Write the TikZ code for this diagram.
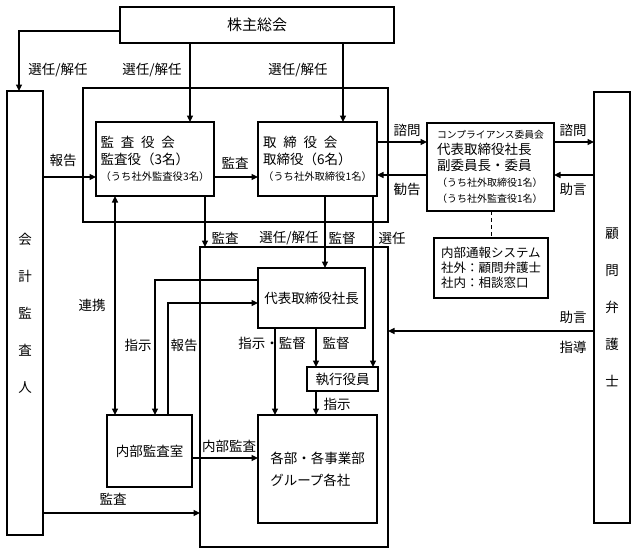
\documentclass[tikz,border=0pt]{standalone}
\usepackage{fontspec}
\setmainfont{Noto Sans CJK JP}
\usetikzlibrary{arrows.meta,calc}
\begin{document}
\begin{tikzpicture}[x=1pt,y=-1pt,
  line width=1.1pt,
  box/.style={draw,rectangle,inner sep=0pt,outer sep=0pt,align=left,font=\fontsize{13.5}{16.5}\selectfont},
  lbl/.style={inner sep=0pt,font=\fontsize{13.5}{15}\selectfont},
  arr/.style={-{Triangle[length=6.5pt,width=6pt]}},
  darr/.style={{Triangle[length=6.5pt,width=6pt]}-{Triangle[length=6.5pt,width=6pt]}}]
\useasboundingbox (0,0) rectangle (637,554);
% outer frames
\node[box,minimum width=305,minimum height=134] (outerA) at (235.5,155) {};
\node[box,minimum width=188,minimum height=300] (outerB) at (294,397) {};
% boxes
\node[box,align=center,minimum width=274,minimum height=36,font=\fontsize{15}{16}\selectfont] (kabu) at (257,25) {株主総会};
\node[box,align=center,minimum width=36,minimum height=444,font=\fontsize{13.5}{37}\selectfont] (kaikei) at (25,313) {会\\計\\監\\査\\人};
\node[box,align=center,minimum width=36,minimum height=431,font=\fontsize{13.5}{37}\selectfont] (komon) at (612,307.5) {顧\\問\\弁\\護\\士};
\node[box,minimum width=118,minimum height=74] (kansa) at (155,159)
  {監\hspace{0.5em}査\hspace{0.5em}役\hspace{0.5em}会\\監査役（3名）\\{\fontsize{10.3}{16.5}\selectfont （うち社外監査役3名）}};
\node[box,minimum width=119,minimum height=74] (tori) at (317.5,159)
  {取\hspace{0.5em}締\hspace{0.5em}役\hspace{0.5em}会\\取締役（6名）\\{\fontsize{10.3}{16.5}\selectfont （うち社外取締役1名）}};
\node[box,minimum width=127,minimum height=88,font=\fontsize{13.5}{16}\selectfont] (comp) at (490.5,167)
  {{\fontsize{9.8}{16}\selectfont コンプライアンス委員会}\\代表取締役社長\\副委員長・委員\\{\fontsize{10}{16}\selectfont （うち社外取締役1名）}\\{\fontsize{10}{16}\selectfont （うち社外監査役1名）}};
\node[box,minimum width=114,minimum height=60,font=\fontsize{12.5}{15}\selectfont] (tsuho) at (491,268)
  {内部通報システム\\社外：顧問弁護士\\社内：相談窓口};
\node[box,align=center,minimum width=107,minimum height=60] (dai) at (311.5,298) {代表取締役社長};
\node[box,align=center,minimum width=71,minimum height=24] (shikko) at (342.5,379) {執行役員};
\node[box,minimum width=119,minimum height=108,font=\fontsize{13.5}{22}\selectfont] (buka) at (317.5,469) {各部・各事業部\\グループ各社};
\node[box,align=center,minimum width=85,minimum height=72] (naibu) at (149.5,451) {内部監査室};
% helper coordinates
\coordinate (c19) at (19,0);
\coordinate (c115) at (115,0);
\coordinate (c155) at (155,0);
\coordinate (c168) at (168,0);
\coordinate (c190) at (190,0);
\coordinate (c205) at (205,0);
\coordinate (c275) at (275,0);
\coordinate (c316) at (316,0);
\coordinate (c325) at (325,0);
\coordinate (c343) at (343,0);
\coordinate (c373) at (373,0);
\coordinate (c491) at (491,0);
\coordinate (r31) at (0,31);
\coordinate (r142) at (0,142);
\coordinate (r175) at (0,175);
\coordinate (r177) at (0,177);
\coordinate (r280) at (0,280);
\coordinate (r303) at (0,303);
\coordinate (r331) at (0,331);
\coordinate (r458) at (0,458);
\coordinate (r513) at (0,513);
% connectors
\draw[arr] (kabu.west |- r31) -- (c19 |- r31) -- (c19 |- kaikei.north);
\draw[arr] (c190 |- kabu.south) -- (c190 |- kansa.north);
\draw[arr] (c343 |- kabu.south) -- (c343 |- tori.north);
\draw[arr] (kaikei.east |- r177) -- (kansa.west |- r177);
\draw[arr] (kansa.east |- r177) -- (tori.west |- r177);
\draw[arr] (tori.east |- r142) -- (comp.west |- r142);
\draw[arr] (comp.west |- r175) -- (tori.east |- r175);
\draw[arr] (comp.east |- r142) -- (komon.west |- r142);
\draw[arr] (komon.west |- r175) -- (comp.east |- r175);
\draw[line width=1pt,dash pattern=on 4pt off 3pt] (c491 |- comp.south) -- (c491 |- tsuho.north);
\draw[arr] (c205 |- kansa.south) -- (c205 |- outerB.north);
\draw[arr] (c325 |- tori.south) -- (c325 |- dai.north);
\draw[arr] (c373 |- tori.south) -- (c373 |- shikko.north);
\draw[darr] (c115 |- kansa.south) -- (c115 |- naibu.north);
\draw[arr] (dai.west |- r280) -- (c155 |- r280) -- (c155 |- naibu.north);
\draw[arr] (c168 |- naibu.north) -- (c168 |- r303) -- (dai.west |- r303);
\draw[arr] (c275 |- dai.south) -- (c275 |- buka.north);
\draw[arr] (c316 |- dai.south) -- (c316 |- shikko.north);
\draw[arr] (c316 |- shikko.south) -- (c316 |- buka.north);
\draw[arr] (naibu.east |- r458) -- (buka.west |- r458);
\draw[arr] (kaikei.east |- r513) -- (outerB.west |- r513);
\draw[arr] (komon.west |- r331) -- (outerB.east |- r331);
% labels
\node[lbl] (l1) at (58,70) {選任/解任};
\node[lbl] (l2) at (152,70) {選任/解任};
\node[lbl] (l3) at (298,70) {選任/解任};
\node[lbl] (l4) at (407,130) {諮問};
\node[lbl] (l5) at (407,189) {勧告};
\node[lbl] (l6) at (573,130) {諮問};
\node[lbl] (l7) at (573,189) {助言};
\node[lbl] (l8) at (63,160) {報告};
\node[lbl] (l9) at (235,163) {監査};
\node[lbl] (l10) at (225,238) {監査};
\node[lbl] (l11) at (289,238) {選任/解任};
\node[lbl] (l12) at (342,238) {監督};
\node[lbl] (l13) at (392,238) {選任};
\node[lbl] (l14) at (92,305) {連携};
\node[lbl] (l15) at (138,345) {指示};
\node[lbl] (l16) at (184,345) {報告};
\node[lbl] (l17) at (272,343) {指示・監督};
\node[lbl] (l18) at (336,343) {監督};
\node[lbl] (l19) at (337,404) {指示};
\node[lbl] (l20) at (573,317) {助言};
\node[lbl] (l21) at (573,347) {指導};
\node[lbl] (l22) at (229,446) {内部監査};
\node[lbl] (l23) at (113,499) {監査};
\end{tikzpicture}
\end{document}
